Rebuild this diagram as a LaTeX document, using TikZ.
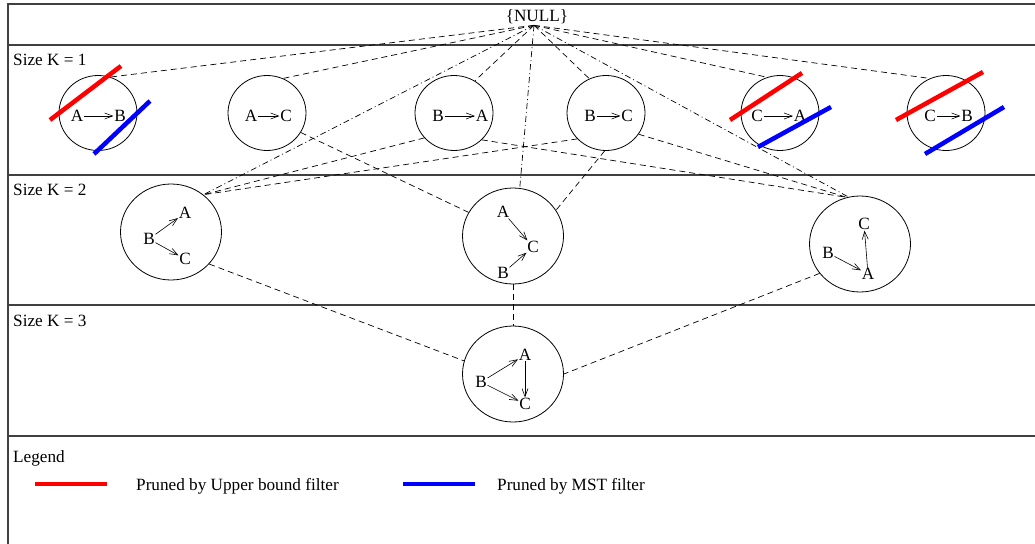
\documentclass[tikz,border=0pt]{standalone}
\usepackage{fontspec}
\setmainfont{Liberation Serif}
\usetikzlibrary{shapes.geometric, arrows.meta, positioning, calc}

\begin{document}
\begin{tikzpicture}[
        x=1pt, y=-1pt,
        every node/.style={font=\fontsize{17.2}{20}\selectfont},
        state/.style={draw, ellipse, line width=0.8pt, inner sep=0pt, minimum width=78pt, minimum height=75pt},
        bigstate/.style={state, minimum width=101pt, minimum height=96pt},
        letter/.style={inner sep=0.6pt},
        arrow/.style={-{Straight Barb[length=8pt, width=6pt]}, line width=0.6pt},
        link/.style={dash pattern=on 6pt off 4pt, line width=0.7pt},
        jump/.style={dash pattern=on 6pt off 3pt on 1pt off 3pt, line width=0.7pt},
        upper/.style={red, line width=4.5pt},
        mst/.style={blue, line width=4.5pt},
        frame/.style={line width=1.1pt, black!75}
    ]
        \useasboundingbox (0,0) rectangle (1035,543);
        \clip (0,0) rectangle (1035,543);

        % Frame and rows
        \draw[frame] (8,4) rectangle (1050,560);
        \draw[frame] (8,45) -- (1050,45);
        \draw[frame] (8,175) -- (1050,175);
        \draw[frame] (8,305) -- (1050,305);
        \draw[frame] (8,436) -- (1050,436);

        \node[anchor=west, inner sep=0pt] (row1) at (13,60) {Size K = 1};
        \node[anchor=west, inner sep=0pt] (row2) at (13,190) {Size K = 2};
        \node[anchor=west, inner sep=0pt] (row3) at (13,321) {Size K = 3};

        % Empty set
        \node[inner sep=1pt] (null) at (537,17) {\{NULL\}};
        \coordinate (hub) at ([xshift=-3pt]null.south);

        % Size 1
        \node[state] (ab) at (98,113) {};
        \node[letter] (ab-a) at (77,116) {A};
        \node[letter] (ab-b) at (120,116) {B};
        \draw[arrow] (ab-a) -- (ab-b);

        \node[state] (ac) at (267,113) {};
        \node[letter] (ac-a) at (251,116) {A};
        \node[letter] (ac-c) at (286,116) {C};
        \draw[arrow] (ac-a) -- (ac-c);

        \node[state] (ba) at (454,113) {};
        \node[letter] (ba-b) at (438,116) {B};
        \node[letter] (ba-a) at (482,116) {A};
        \draw[arrow] (ba-b) -- (ba-a);

        \node[state] (bc) at (606,113) {};
        \node[letter] (bc-b) at (590,116) {B};
        \node[letter] (bc-c) at (627,116) {C};
        \draw[arrow] (bc-b) -- (bc-c);

        \node[state] (ca) at (780,113) {};
        \node[letter] (ca-c) at (757,116) {C};
        \node[letter] (ca-a) at (800,116) {A};
        \draw[arrow] (ca-c) -- (ca-a);

        \node[state] (cb) at (946,113) {};
        \node[letter] (cb-c) at (930,116) {C};
        \node[letter] (cb-b) at (967,116) {B};
        \draw[arrow] (cb-c) -- (cb-b);

        % Size 2
        \node[bigstate] (bac) at (171,232) {};
        \node[letter] (bac-b) at (149,239) {B};
        \node[letter] (bac-a) at (185,213) {A};
        \node[letter] (bac-c) at (185,259) {C};
        \draw[arrow] (bac-b) -- (bac-a);
        \draw[arrow] (bac-b) -- (bac-c);

        \node[bigstate] (abc) at (513,236) {};
        \node[letter] (abc-a) at (503,212) {A};
        \node[letter] (abc-c) at (533,247) {C};
        \node[letter] (abc-b) at (503,273) {B};
        \draw[arrow] (abc-a) -- (abc-c);
        \draw[arrow] (abc-b) -- (abc-c);

        \node[bigstate] (bca) at (860,244) {};
        \node[letter] (bca-c) at (864,224) {C};
        \node[letter] (bca-b) at (828,253) {B};
        \node[letter] (bca-a) at (868,274) {A};
        \draw[arrow] (bca-b) -- (bca-a);
        \draw[arrow] (bca-a) -- (bca-c);

        % Size 3
        \node[bigstate] (full) at (513,374) {};
        \node[letter] (full-a) at (525,355) {A};
        \node[letter] (full-b) at (481,382) {B};
        \node[letter] (full-c) at (525,404) {C};
        \draw[arrow] (full-b) -- (full-a);
        \draw[arrow] (full-b) -- (full-c);
        \draw[arrow] (full-a) -- (full-c);

        % Lattice edges
        \draw[link] (hub) -- (ab.71);
        \draw[link] (hub) -- (ac.65);
        \draw[link] (hub) -- (ba.57);
        \draw[link] (hub) -- (bc.116);
        \draw[link] (hub) -- (ca.110);
        \draw[link] (hub) -- (cb.115);
        \draw[jump] (hub) -- (bac.49);
        \draw[jump] (hub) -- (abc.82);
        \draw[jump] (hub) -- (bca.104);

        \draw[link] (ba.220) -- (bac.49);
        \draw[link] (bc.222) -- (bac.49);
        \draw[link] (ac.330) -- (abc.152);
        \draw[link] (bc.268) -- (abc.31);
        \draw[link] (ba.316) -- (bca.106);
        \draw[link] (bc.327) -- (bca.106);

        \draw[link] (bac.320) -- (full.165);
        \draw[link] (abc.south) -- (full.north);
        \draw[link] (bca.216) -- (full.east);

        % Pruned marks
        \draw[upper] (50,120) -- (121,66);
        \draw[mst] (94,154) -- (150,101);
        \draw[upper] (730,120) -- (802,73);
        \draw[mst] (758,147) -- (831,107);
        \draw[upper] (896,120) -- (983,72);
        \draw[mst] (925,154) -- (1004,107);

        % Legend
        \node[anchor=west, inner sep=0pt] (legend) at (13,458) {Legend};
        \draw[upper] (35,484) -- (107,484);
        \node[anchor=west, inner sep=0pt] (ub-text) at (136,486) {Pruned by Upper bound filter};
        \draw[mst] (403,484) -- (475,484);
        \node[anchor=west, inner sep=0pt] (mst-text) at (497,486) {Pruned by MST filter};
    \end{tikzpicture}
\end{document}
